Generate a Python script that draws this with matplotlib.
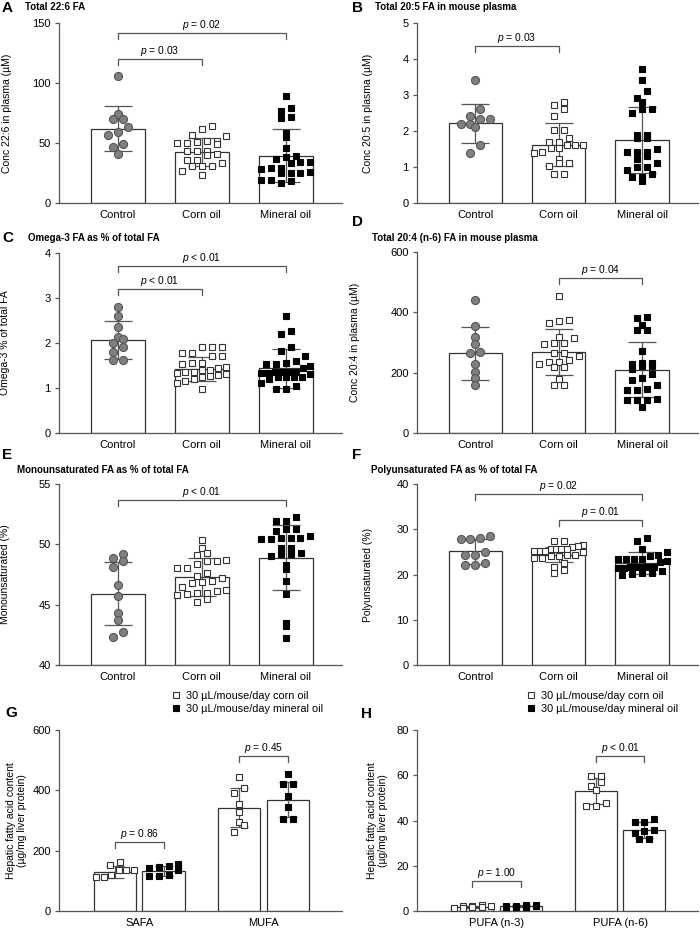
import numpy as np
import matplotlib
matplotlib.use("Agg")
import matplotlib.pyplot as plt
from matplotlib.lines import Line2D

plt.rcParams["font.family"] = ["Liberation Sans", "DejaVu Sans"]
plt.rcParams["mathtext.fontset"] = "custom"
plt.rcParams["mathtext.it"] = "Liberation Sans:italic"
plt.rcParams["mathtext.rm"] = "Liberation Sans"

# ─── Data ─────────────────────────────────────────────────────────────────────

GROUPS = ["Control", "Corn oil", "Mineral oil"]

A_ctrl = [105.8, 74, 70, 70, 63, 59, 57, 49, 47, 41]
A_corn = [64, 62, 57, 56, 52, 52, 51, 50, 50, 49, 43, 43, 43, 41, 40, 36, 36, 33,
          31, 31, 31, 27, 23]
A_mineral = [89, 79, 77, 72, 71, 58, 55, 46, 39, 38, 37, 34, 34, 33, 29, 29, 28,
             26, 25, 25, 25, 19, 19, 18, 17]
A_mean = [62, 42.5, 39.5]
A_sd = [18.5, 11.5, 22]

B_ctrl = [3.42, 2.6, 2.42, 2.32, 2.32, 2.19, 2.19, 2.1, 1.61, 1.4]
B_corn = [2.81, 2.72, 2.61, 2.42, 2.03, 2.03, 1.81, 1.7, 1.69, 1.61, 1.61, 1.61,
          1.52, 1.52, 1.43, 1.4, 1.21, 1.1, 1.1, 1.04, 0.81, 0.81]
B_mineral = [3.71, 3.42, 3.12, 2.92, 2.81, 2.61, 2.61, 2.51, 1.9, 1.9, 1.81, 1.81,
             1.5, 1.41, 1.41, 1.41, 1.31, 1.21, 1.1, 1.01, 1.01, 0.92, 0.81, 0.71,
             0.71, 0.61]
B_mean = [2.21, 1.62, 1.74]
B_sd = [0.55, 0.6, 0.92]

C_ctrl = [2.81, 2.6, 2.36, 2.14, 2.08, 2.0, 1.92, 1.8, 1.62, 1.62]
C_corn = [1.92, 1.92, 1.9, 1.77, 1.77, 1.71, 1.71, 1.55, 1.55, 1.53, 1.46, 1.44,
          1.4, 1.4, 1.36, 1.36, 1.34, 1.31, 1.29, 1.27, 1.25, 1.21, 1.15, 1.12, 0.98]
C_mineral = [2.61, 2.27, 2.19, 1.92, 1.83, 1.7, 1.61, 1.55, 1.53, 1.53, 1.49, 1.44,
             1.36, 1.36, 1.36, 1.36, 1.34, 1.34, 1.3, 1.25, 1.25, 1.25, 1.24, 1.21,
             1.12, 1.05, 0.98, 0.98]
C_mean = [2.06, 1.42, 1.44]
C_sd = [0.42, 0.26, 0.43]

D_ctrl = [441, 356, 319, 294, 269, 266, 229, 203, 181, 159]
D_corn = [454, 375, 371, 364, 319, 314, 299, 297, 295, 266, 264, 256, 242, 236,
          236, 229, 218, 218, 178, 159, 159]
D_mineral = [386, 380, 358, 341, 341, 273, 233, 233, 229, 223, 222, 212, 196, 181,
             176, 159, 146, 143, 143, 113, 109, 109, 109, 86]
D_mean = [265, 268, 210]
D_sd = [88, 76, 90]

E_ctrl = [49.2, 48.9, 48.6, 48.1, 46.6, 45.7, 44.3, 43.7, 42.7, 42.3]
E_corn = [50.4, 49.7, 49.25, 49.1, 48.7, 48.6, 48.6, 48.4, 48.0, 48.0, 47.6, 47.4,
          47.2, 47.0, 46.9, 46.8, 46.5, 46.2, 46.1, 46.0, 46.0, 45.9, 45.8, 45.5, 45.2]
E_mineral = [52.3, 51.9, 51.9, 51.3, 51.3, 51.1, 50.7, 50.55, 50.5, 50.5, 50.45,
             50.45, 49.7, 49.7, 49.25, 49.2, 49.2, 49.0, 48.3, 47.95, 47.0, 45.9,
             43.5, 43.2, 42.2]
E_mean = [45.9, 47.3, 48.9]
E_sd = [2.6, 1.6, 2.7]

F_ctrl = [28.6, 28.1, 27.8, 27.8, 25.0, 24.3, 24.3, 22.5, 22.1, 22.1]
F_corn = [27.5, 27.4, 26.5, 26.3, 26.1, 25.6, 25.6, 25.6, 25.6, 25.3, 25.3, 25.3,
          25.0, 24.3, 24.3, 24.1, 24.0, 23.6, 23.6, 22.5, 21.7, 21.0, 20.3]
F_mineral = [28.1, 27.3, 25.6, 25.0, 24.3, 24.1, 23.5, 23.4, 23.4, 23.4, 22.9, 22.8,
             21.7, 21.7, 21.7, 21.7, 21.7, 21.5, 21.5, 20.7, 20.3, 20.3, 20.1, 20.0]
F_mean = [25.1, 24.4, 22.5]
F_sd = [2.7, 1.7, 2.4]

G_cats = ["SAFA", "MUFA"]
G_corn = [[163, 152, 136, 136, 136, 119, 112, 112],
          [445, 407, 392, 355, 329, 296, 286, 263]]
G_mineral = [[156, 149, 147, 141, 136, 119, 116, 116],
             [453, 421, 421, 382, 346, 305, 305]]
G_corn_mean = [130, 343]
G_corn_sd = [20, 65]
G_mineral_mean = [133, 368]
G_mineral_sd = [16, 58]

H_cats = ["PUFA (n-3)", "PUFA (n-6)"]
H_corn = [[2.5, 2.3, 2.2, 2.0, 1.9, 1.6, 1.5, 1.4],
          [59.8, 59.8, 57.1, 55.4, 53.5, 47.6, 46.5, 46.5]]
H_mineral = [[2.8, 2.6, 2.4, 2.2, 2.0, 1.8, 1.7, 1.6],
             [40.5, 39.5, 39.5, 35.8, 35.5, 34.6, 31.9, 31.7]]
H_corn_mean = [1.9, 52.9]
H_corn_sd = [0.4, 5.8]
H_mineral_mean = [2.2, 35.9]
H_mineral_sd = [0.4, 3.5]

LEGEND_LABELS = ["30 µL/mouse/day corn oil", "30 µL/mouse/day mineral oil"]

# ─── Style ────────────────────────────────────────────────────────────────────

W, H = 700, 930
SPINE = "#555555"
EDGE = "#333333"
ERR = "#555555"
LW = 0.9
TICK_FS = 8
LABEL_FS = 7.5
TITLE_FS = 7
LETTER_FS = 11
P_FS = 7.4

MARKERS = [
    dict(marker="o", ms=5.8, mfc="#808080", mec="#555555", mew=0.8),
    dict(marker="s", ms=5.0, mfc="white", mec=EDGE, mew=0.8),
    dict(marker="s", ms=5.0, mfc="black", mec="black", mew=0.8),
]

fig = plt.figure(figsize=(W / 100, H / 100), dpi=100)
fig.patch.set_facecolor("white")


def add_ax(left, top, right, bottom):
    return fig.add_axes([left / W, 1 - bottom / H, (right - left) / W, (bottom - top) / H])


def px_scale(ax):
    b = ax.get_position()
    x0, x1 = ax.get_xlim()
    y0, y1 = ax.get_ylim()
    return b.width * W / (x1 - x0), b.height * H / (y1 - y0)


def style(ax, ylim, yticks, xlim, label, label_x):
    ax.set_xlim(xlim)
    ax.set_ylim(ylim)
    ax.set_yticks(yticks)
    for s in ["top", "right"]:
        ax.spines[s].set_visible(False)
    for s in ["left", "bottom"]:
        ax.spines[s].set_color(SPINE)
        ax.spines[s].set_linewidth(LW)
    ax.tick_params(axis="y", length=3, width=LW, color=SPINE, labelsize=TICK_FS, pad=3)
    ax.tick_params(axis="x", length=0, pad=5, labelsize=TICK_FS)
    ax.set_ylabel(label, fontsize=LABEL_FS, linespacing=1.1)
    ax.yaxis.set_label_coords(label_x, 0.5)


def swarm(ax, xc, vals, width, d=7.6):
    """Prism-like scatter: bin values into rows, spread each row horizontally."""
    sx, sy = px_scale(ax)
    rows = {}
    for i, v in enumerate(vals):
        rows.setdefault(int(round(v * sy / (1.2 * d))), []).append(i)
    max_span = width * sx - 0.6 * d
    xs = [xc] * len(vals)
    for idx in rows.values():
        n = len(idx)
        step = 1.3 * d if (n - 1) * 1.3 * d <= max_span else max_span / (n - 1)
        for k, i in enumerate(sorted(idx, key=lambda j: vals[j])):
            xs[i] = xc + (k - (n - 1) / 2) * step / sx
    return xs


def draw_group(ax, xc, vals, mean, sd, width, style_kw, base, cap):
    ax.bar(xc, mean - base, width, bottom=base, facecolor="white", edgecolor=EDGE,
           linewidth=LW, zorder=1)
    ax.errorbar(xc, mean, yerr=sd, fmt="none", ecolor=ERR, elinewidth=LW,
                capsize=cap, capthick=LW, zorder=2)
    xs = swarm(ax, xc, vals, width)
    ax.plot(xs, vals, linestyle="none", zorder=3, clip_on=False, **style_kw)


def bracket(ax, x1, x2, y, text, h_px=6):
    _, sy = px_scale(ax)
    h = h_px / sy
    ax.plot([x1, x1, x2, x2], [y - h, y, y, y - h], color=ERR, lw=LW, clip_on=False)
    ax.annotate(text, (0.5 * (x1 + x2), y), xytext=(0, 3.6), textcoords="offset points",
                ha="center", va="baseline", fontsize=P_FS)


def letter(x, y, s):
    fig.text(x / W, 1 - y / H, s, fontsize=LETTER_FS, fontweight="bold", va="center",
             ha="left")


def title(x, y, s):
    fig.text(x / W, 1 - y / H, s, fontsize=TITLE_FS, fontweight="bold", va="center",
             ha="left")


XLIM3 = (-0.70, 2.67)
BAR_W3 = 0.64


def three_group(box, data, means, sds, ylim, yticks, label, label_x, brackets):
    ax = add_ax(*box)
    style(ax, ylim, yticks, XLIM3, label, label_x)
    ax.set_xticks(range(3))
    ax.set_xticklabels(GROUPS)
    for i, vals in enumerate(data):
        draw_group(ax, i, vals, means[i], sds[i], BAR_W3, MARKERS[i], ylim[0], 10)
    for (i, j, y, t) in brackets:
        bracket(ax, i, j, y, t)
    return ax


# ─── Panels A–F ───────────────────────────────────────────────────────────────

three_group((59, 23, 342, 203), [A_ctrl, A_corn, A_mineral], A_mean, A_sd,
            (0, 150), [0, 50, 100, 150], "Conc 22:6 in plasma (µM)", -0.166,
            [(0, 1, 120, "$p$ = 0.03"), (0, 2, 141.7, "$p$ = 0.02")])
three_group((417, 23, 698, 203), [B_ctrl, B_corn, B_mineral], B_mean, B_sd,
            (0, 5), [0, 1, 2, 3, 4, 5], "Conc 20:5 in plasma (µM)", -0.157,
            [(0, 1, 4.36, "$p$ = 0.03")])
three_group((59, 253, 342, 433), [C_ctrl, C_corn, C_mineral], C_mean, C_sd,
            (0, 4), [0, 1, 2, 3, 4], "Omega-3 % of total FA", -0.173,
            [(0, 1, 3.19, "$p$ < 0.01"), (0, 2, 3.71, "$p$ < 0.01")])
three_group((417, 252, 698, 433), [D_ctrl, D_corn, D_mineral], D_mean, D_sd,
            (0, 600), [0, 200, 400, 600], "Conc 20:4 in plasma (µM)", -0.203,
            [(1, 2, 515, "$p$ = 0.04")])
three_group((59, 484, 342, 665), [E_ctrl, E_corn, E_mineral], E_mean, E_sd,
            (40, 55), [40, 45, 50, 55], "Monounsaturated (%)", -0.173,
            [(0, 2, 53.67, "$p$ < 0.01")])
three_group((417, 484, 698, 665), [F_ctrl, F_corn, F_mineral], F_mean, F_sd,
            (0, 40), [0, 10, 20, 30, 40], "Polyunsaturated (%)", -0.157,
            [(0, 2, 37.8, "$p$ = 0.02"), (1, 2, 32.0, "$p$ = 0.01")])

# ─── Panels G–H ───────────────────────────────────────────────────────────────

XLIM2 = (-0.645, 1.63)
OFF = 0.196
BAR_W2 = 0.34
HEP_LABEL = "Hepatic fatty acid content\n(µg/mg liver protein)"


def two_group(box, cats, corn, mineral, cm, csd, mm, msd, ylim, yticks, label_x,
              brackets):
    ax = add_ax(*box)
    style(ax, ylim, yticks, XLIM2, HEP_LABEL, label_x)
    ax.set_xticks(range(len(cats)))
    ax.set_xticklabels(cats)
    for k in range(len(cats)):
        draw_group(ax, k - OFF, corn[k], cm[k], csd[k], BAR_W2, MARKERS[1], 0, 6.5)
        draw_group(ax, k + OFF, mineral[k], mm[k], msd[k], BAR_W2, MARKERS[2], 0, 6.5)
    for k, y, t in brackets:
        bracket(ax, k - OFF, k + OFF, y, t)
    return ax


two_group((59, 730, 342, 911), G_cats, G_corn, G_mineral, G_corn_mean, G_corn_sd,
          G_mineral_mean, G_mineral_sd, (0, 600), [0, 200, 400, 600], -0.113,
          [(0, 230, "$p$ = 0.86"), (1, 514, "$p$ = 0.45")])
two_group((417, 730, 698, 911), H_cats, H_corn, H_mineral, H_corn_mean, H_corn_sd,
          H_mineral_mean, H_mineral_sd, (0, 80), [0, 20, 40, 60, 80], -0.103,
          [(0, 13.4, "$p$ = 1.00"), (1, 68.5, "$p$ < 0.01")])

handles = [Line2D([], [], linestyle="none", marker="s", ms=4.6, mfc="white", mec=EDGE, mew=0.8),
           Line2D([], [], linestyle="none", marker="s", ms=4.6, mfc="black", mec="black", mew=0.8)]
for lx in (172, 527):
    fig.legend(handles, LEGEND_LABELS, loc="upper left", bbox_to_anchor=(lx / W, 1 - 691 / H),
               frameon=False, fontsize=7.8, handlelength=0.8, handletextpad=0.5,
               labelspacing=0.3, borderpad=0, borderaxespad=0)

# ─── Letters and titles ───────────────────────────────────────────────────────

letter(2, 8, "A")
title(25, 7, "Total 22:6 FA")
letter(352, 8, "B")
title(375, 7, "Total 20:5 FA in mouse plasma")
letter(2, 238, "C")
title(28, 238, "Omega-3 FA as % of total FA")
letter(352, 222, "D")
title(372, 238, "Total 20:4 (n-6) FA in mouse plasma")
letter(2, 455, "E")
title(17, 470, "Monounsaturated FA as % of total FA")
letter(352, 455, "F")
title(371, 470, "Polyunsaturated FA as % of total FA")
letter(5, 713, "G")
letter(361, 714, "H")

fig.savefig("out.png", dpi=100, facecolor="white")
